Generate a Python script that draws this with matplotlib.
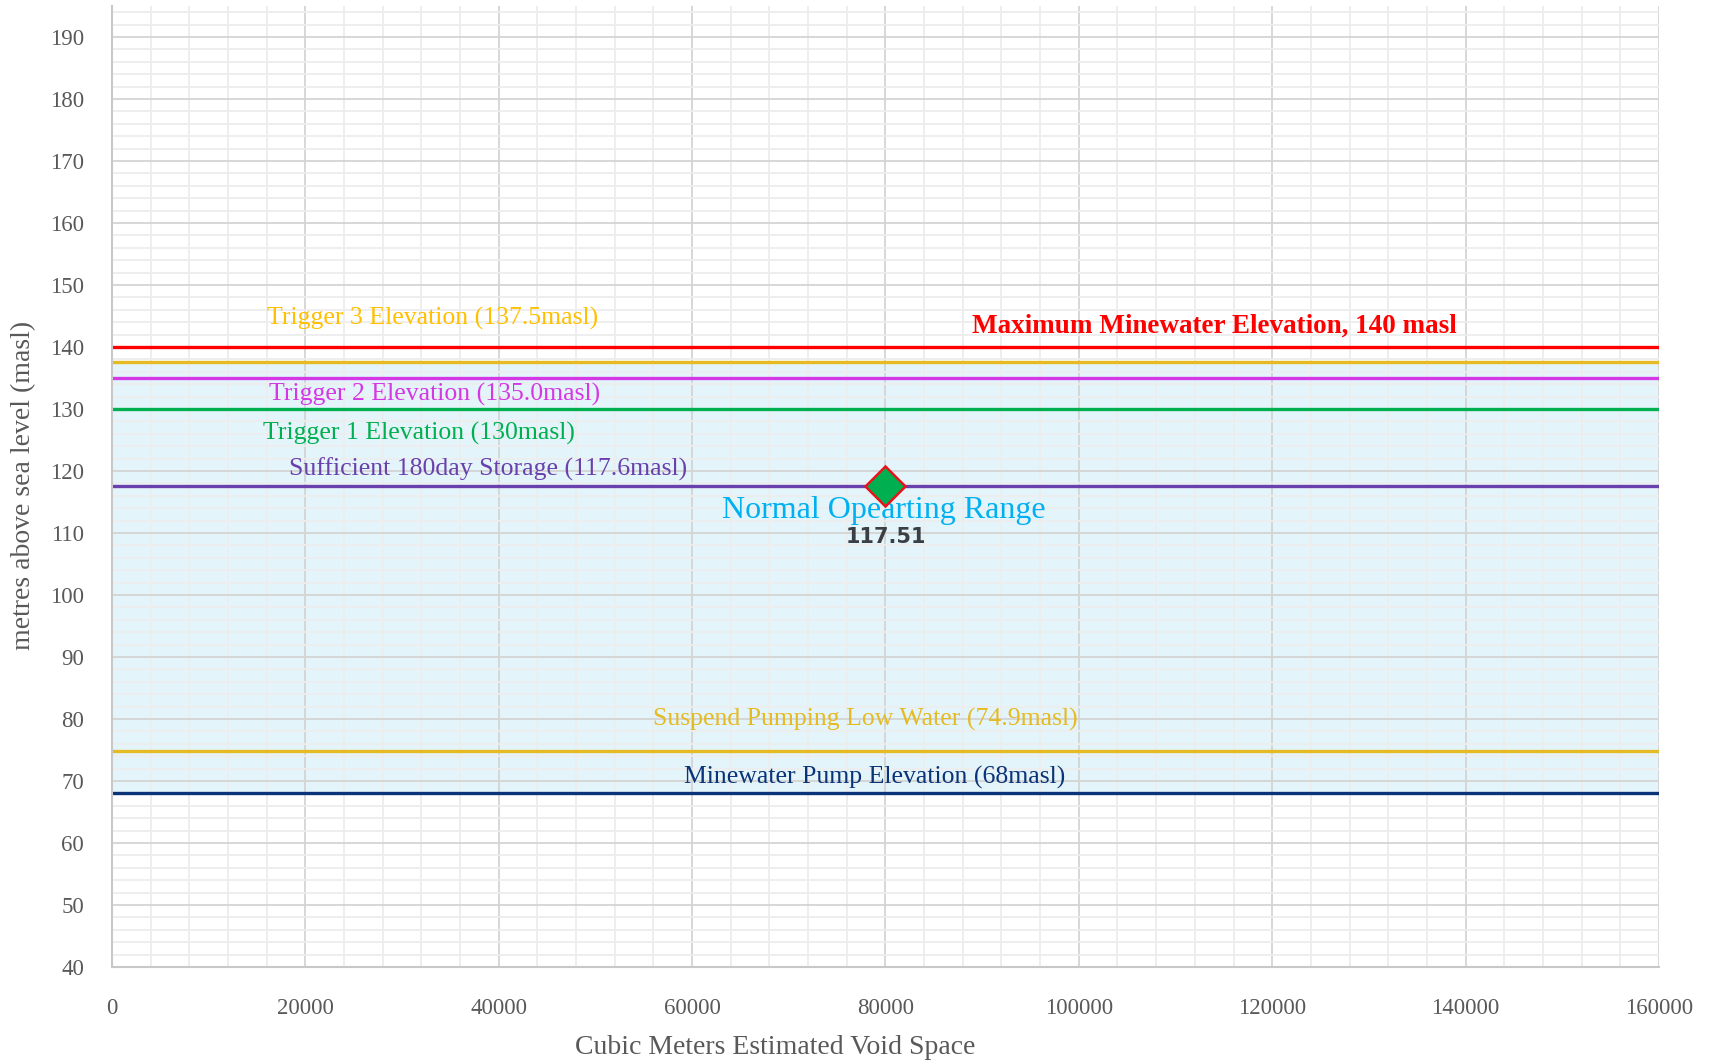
import matplotlib
matplotlib.use("Agg")
import matplotlib.pyplot as plt
from matplotlib.ticker import MultipleLocator

# ---- data ----
level_names = ["Maximum Minewater Elevation, 140 masl",
               "Trigger 3 Elevation (137.5masl)",
               "Trigger 2 Elevation (135.0masl)",
               "Trigger 1 Elevation (130masl)",
               "Sufficient 180day Storage (117.6masl)",
               "Suspend Pumping Low Water (74.9masl)",
               "Minewater Pump Elevation (68masl)"]
level_values = [140, 137.5, 135, 130, 117.6, 74.9, 68]
range_low = 68
range_high = 137.5
range_label = "Normal Opearting Range"
point_x = [80000]
point_y = [117.51]
point_label = ["117.51"]
x_label = "Cubic Meters Estimated Void Space"
y_label = "metres above sea level (masl)"
x_limits = [0, 160000]
y_limits = [40, 195]

# ---- styles / positions ----
line_colors = ["#FF0000", "#E6BA22", "#D438E4", "#00B050", "#6A40AC", "#E6BA22", "#0B3377"]
text_colors = ["#FF0000", "#FFC000", "#D438E4", "#00B050", "#6A40AC", "#E6BA22", "#0B3377"]
text_pos = [(114000, 143.3), (33200, 144.6), (33400, 132.4), (31700, 126.1),
            (38900, 120.3), (77900, 79.9), (78900, 70.6)]
text_bold = [True, False, False, False, False, False, False]
text_size = [19.5, 18.5, 18.5, 18.5, 18.5, 18.5, 18.5]

serif = ["Liberation Serif", "DejaVu Serif"]

fig = plt.figure(figsize=(17.15, 10.64), dpi=100)
ax = fig.add_axes([0.0653, 0.0912, 0.9020, 0.9032])
ax.set_xlim(*x_limits)
ax.set_ylim(*y_limits)

ax.fill_between(x_limits, range_low, range_high, color="#E3F4FB", zorder=0.2, lw=0)

ax.xaxis.set_major_locator(MultipleLocator(20000))
ax.xaxis.set_minor_locator(MultipleLocator(4000))
ax.yaxis.set_major_locator(MultipleLocator(10))
ax.yaxis.set_minor_locator(MultipleLocator(2))
ax.set_yticks(range(40, 191, 10))
ax.set_axisbelow(True)
ax.grid(which="major", color="#D4D4D4", lw=1.3, zorder=0.5)
ax.grid(which="minor", color="#EDEDED", lw=1.3, zorder=0.4)
ax.tick_params(which="both", length=0)
ax.tick_params(axis="x", pad=22)
ax.tick_params(axis="y", pad=20)
for lab in ax.get_xticklabels() + ax.get_yticklabels():
    lab.set_family(serif)
    lab.set_fontsize(16.5)
    lab.set_color("#595959")
for s in ["top", "right"]:
    ax.spines[s].set_visible(False)
for s in ["left", "bottom"]:
    ax.spines[s].set_color("#C8C8C8")
    ax.spines[s].set_linewidth(1.5)

for name, v, lc, tc, (tx, ty), b, fs in zip(level_names, level_values, line_colors,
                                              text_colors, text_pos, text_bold, text_size):
    ax.plot(x_limits, [v, v], color=lc, lw=2.4, zorder=2, solid_capstyle="butt")
    ax.text(tx, ty, name, color=tc, fontsize=fs, family=serif,
            fontweight="bold" if b else "normal", ha="center", va="center", zorder=3)

ax.text(79800, 113.6, range_label, color="#00B0F0", fontsize=23, family=serif,
        ha="center", va="center", zorder=3)

ax.plot(point_x, point_y, marker="D", markersize=20, markerfacecolor="#00B050",
        markeredgecolor="#E8141C", markeredgewidth=1.8, linestyle="none", zorder=4)
for px, py, pl in zip(point_x, point_y, point_label):
    ax.text(px, 109.4, pl, color="#3A3F44", fontsize=15, fontweight="heavy",
            family=["DejaVu Sans"], ha="center", va="center", zorder=4)

fig.text(775 / 1715, 1 - 1048 / 1064, x_label, fontsize=20, family=serif,
         color="#595959", ha="center", va="center")
fig.text(24 / 1715, 1 - 485 / 1064, y_label, fontsize=20, family=serif,
         color="#595959", ha="center", va="center", rotation=90)

fig.savefig("out.png", dpi=100)
